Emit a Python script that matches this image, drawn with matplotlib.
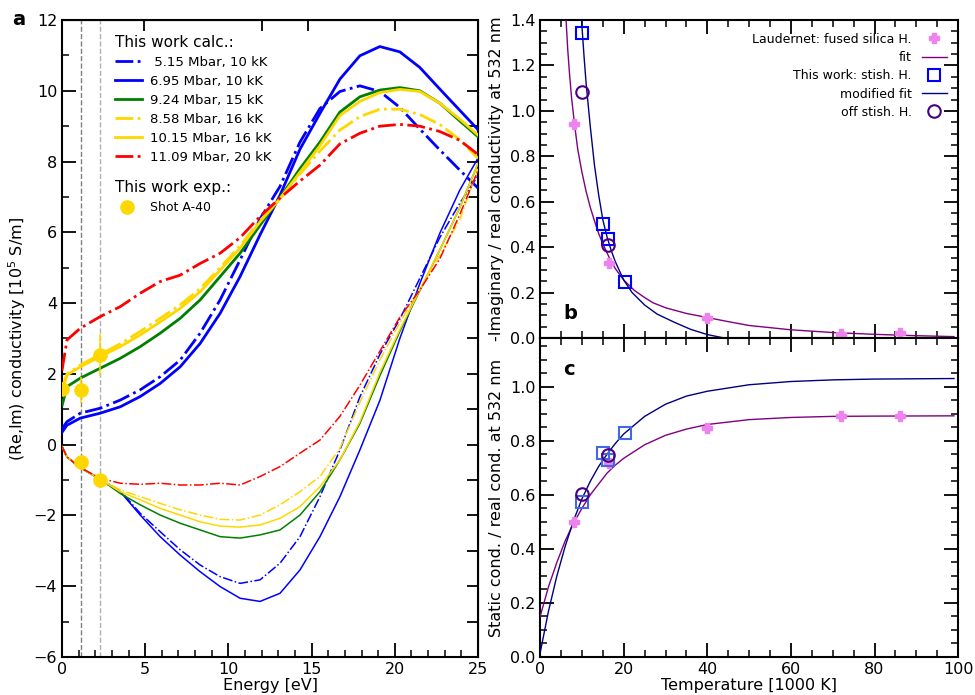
import matplotlib
matplotlib.use('Agg')
import matplotlib.pyplot as plt
from matplotlib.ticker import MultipleLocator, FixedLocator

plt.rcParams['font.family'] = ['DejaVu Sans']
plt.rcParams['font.size'] = 11.5
plt.rcParams['xtick.direction'] = 'in'
plt.rcParams['ytick.direction'] = 'in'

# ---------------- panel a data ----------------
E = [0, 0.3, 1.1, 2.3, 3.5, 4.7, 5.9, 7.1, 8.3, 9.5, 10.7, 11.9, 13.1, 14.3,
     15.5, 16.7, 17.9, 19.1, 20.3, 21.5, 22.7, 23.9, 25.0]

re_515 = [0.45, 0.65, 0.89, 1.03, 1.26, 1.55, 1.92, 2.39, 3.15, 4.09, 5.22, 6.38,
          7.30, 8.55, 9.50, 9.98, 10.14, 9.98, 9.53, 8.92, 8.33, 7.76, 7.25]
re_695 = [0.35, 0.55, 0.75, 0.89, 1.07, 1.36, 1.73, 2.20, 2.86, 3.71, 4.75, 5.93,
          7.05, 8.35, 9.36, 10.33, 10.99, 11.25, 11.10, 10.66, 10.05, 9.45, 8.90]
re_924 = [1.10, 1.64, 1.88, 2.16, 2.44, 2.77, 3.15, 3.57, 4.09, 4.75, 5.41, 6.20,
          6.98, 7.80, 8.55, 9.40, 9.83, 10.02, 10.09, 10.00, 9.65, 9.15, 8.70]
re_858 = [1.60, 2.00, 2.25, 2.55, 2.85, 3.20, 3.57, 3.95, 4.41, 5.00, 5.62, 6.33,
          6.95, 7.65, 8.30, 8.89, 9.27, 9.48, 9.48, 9.33, 9.05, 8.62, 8.09]
re_1015 = [1.50, 1.97, 2.20, 2.49, 2.77, 3.10, 3.47, 3.85, 4.32, 4.93, 5.55, 6.30,
           6.95, 7.70, 8.45, 9.30, 9.70, 9.95, 10.04, 9.98, 9.65, 9.20, 8.75]
re_1109 = [2.10, 2.96, 3.29, 3.62, 3.90, 4.28, 4.61, 4.79, 5.12, 5.41, 5.85, 6.45,
           6.97, 7.45, 7.90, 8.50, 8.80, 9.00, 9.05, 9.00, 8.85, 8.60, 8.20]

im_515 = [-0.05, -0.35, -0.65, -0.98, -1.30, -1.94, -2.46, -2.97, -3.40, -3.73, -3.92,
          -3.82, -3.35, -2.60, -1.47, -0.15, 1.35, 2.55, 3.55, 4.70, 5.85, 6.82, 7.60]
im_695 = [-0.05, -0.35, -0.65, -0.98, -1.33, -1.99, -2.60, -3.12, -3.59, -4.01, -4.34,
          -4.43, -4.20, -3.54, -2.60, -1.47, -0.15, 1.25, 3.00, 4.55, 5.97, 7.19, 8.10]
im_924 = [-0.05, -0.35, -0.65, -0.98, -1.38, -1.70, -1.99, -2.22, -2.41, -2.60, -2.64,
          -2.55, -2.41, -1.99, -1.33, -0.43, 0.60, 1.95, 3.20, 4.35, 5.50, 6.70, 7.95]
im_858 = [-0.05, -0.35, -0.65, -0.98, -1.28, -1.47, -1.66, -1.84, -1.99, -2.11, -2.13,
          -1.99, -1.70, -1.33, -0.90, -0.10, 1.20, 2.40, 3.45, 4.40, 5.35, 6.35, 7.80]
im_1015 = [-0.05, -0.35, -0.65, -0.98, -1.33, -1.56, -1.80, -1.99, -2.18, -2.30, -2.33,
           -2.27, -2.08, -1.75, -1.19, -0.43, 0.65, 2.04, 3.25, 4.37, 5.50, 6.70, 7.95]
im_1109 = [-0.05, -0.35, -0.65, -0.95, -1.09, -1.12, -1.09, -1.14, -1.14, -1.09, -1.14,
           -0.90, -0.62, -0.24, 0.13, 0.80, 1.68, 2.64, 3.60, 4.37, 5.25, 6.50, 7.75]

calc_labels = [' 5.15 Mbar, 10 kK', '6.95 Mbar, 10 kK', '9.24 Mbar, 15 kK',
               '8.58 Mbar, 16 kK', '10.15 Mbar, 16 kK', '11.09 Mbar, 20 kK']

exp_E_re = [0.0, 1.12, 2.28]
exp_re = [1.57, 1.55, 2.53]
exp_re_err = [0.0, 0.37, 0.60]
exp_E_im = [1.12, 2.28]
exp_im = [-0.48, -1.00]
vlines_E = [1.12, 2.28]
top_ticks_E = [4.95, 12.0, 14.8, 20.0]

# ---------------- panels b, c data ----------------
laud_T = [8.2, 16.5, 40, 72, 86]
laud_b = [0.943, 0.329, 0.089, 0.018, 0.020]
laud_c = [0.501, 0.717, 0.847, 0.893, 0.893]
stish_T = [10.1, 15.1, 16.2, 20.2]
stish_b = [1.342, 0.502, 0.436, 0.245]
stish_c = [0.573, 0.754, 0.727, 0.828]
off_T = [10.1, 16.2]
off_b = [1.082, 0.410]
off_c = [0.604, 0.746]

fitb_T = [6.2, 6.6, 7, 7.5, 8.2, 9, 10, 11, 12, 13, 14, 15, 16.5, 18, 20, 22.5, 25, 27,
          30, 35, 40, 45, 50, 60, 70, 80, 90, 99]
fitb_v = [1.40, 1.27, 1.17, 1.06, 0.945, 0.83, 0.73, 0.645, 0.575, 0.515, 0.46, 0.415,
          0.355, 0.305, 0.255, 0.21, 0.178, 0.155, 0.133, 0.108, 0.090, 0.072, 0.055,
          0.036, 0.024, 0.016, 0.010, 0.006]
modb_T = [9.9, 10.5, 11, 12, 13, 14, 15, 16, 17, 18, 20, 22, 25, 28, 32, 36, 40, 44, 50]
modb_v = [1.40, 1.24, 1.12, 0.93, 0.76, 0.63, 0.52, 0.445, 0.385, 0.335, 0.255, 0.20,
          0.145, 0.105, 0.07, 0.038, 0.015, 0.0, -0.02]

fitc_T = [0, 2, 4, 6, 8, 10, 12, 14, 16, 18, 20, 25, 30, 35, 40, 50, 60, 70, 80, 99]
fitc_v = [0.15, 0.26, 0.35, 0.43, 0.495, 0.55, 0.60, 0.64, 0.68, 0.71, 0.735, 0.785,
          0.82, 0.843, 0.86, 0.878, 0.886, 0.89, 0.891, 0.892]
modc_T = [0, 2, 4, 6, 8, 10, 12, 14, 16, 18, 20, 25, 30, 35, 40, 50, 60, 70, 80, 99]
modc_v = [0.015, 0.17, 0.30, 0.41, 0.505, 0.585, 0.65, 0.705, 0.75, 0.79, 0.825, 0.89,
          0.935, 0.965, 0.983, 1.007, 1.019, 1.025, 1.028, 1.03]

# ---------------- figure ----------------
fig = plt.figure(figsize=(9.75, 6.95), dpi=100)
axa = fig.add_axes([0.0636, 0.0547, 0.4267, 0.9165])
axb = fig.add_axes([0.554, 0.5137, 0.4287, 0.4575])
axc = fig.add_axes([0.554, 0.0547, 0.4287, 0.459], sharex=axb)

BLUE, GREEN, GOLD, RED = '#0000ff', '#008000', '#ffd700', '#ff0000'
styles = [(BLUE, '-.'), (BLUE, '-'), (GREEN, '-'), (GOLD, '-.'), (GOLD, '-'), (RED, '-.')]
re_all = [re_515, re_695, re_924, re_858, re_1015, re_1109]
im_all = [im_515, im_695, im_924, im_858, im_1015, im_1109]

for xv, col in zip(vlines_E, ['#808080', '#b0b0b0']):
    axa.axvline(xv, color=col, ls='--', lw=1.0, zorder=1)

handles = []
for (c, ls), re_, im_, lab in zip(styles, re_all, im_all, calc_labels):
    h, = axa.plot(E, re_, color=c, ls=ls, lw=2.0, label=lab, zorder=3)
    axa.plot(E, im_, color=c, ls=ls, lw=1.1, zorder=3)
    handles.append(h)

axa.errorbar(exp_E_re, exp_re, yerr=exp_re_err, fmt='none', ecolor=GOLD, elinewidth=1.5,
             alpha=0.75, zorder=4)
hexp, = axa.plot(exp_E_re, exp_re, 'o', color=GOLD, ms=9.5, zorder=5, label='Shot A-40')
axa.plot(exp_E_im, exp_im, 'o', color=GOLD, ms=9.5, zorder=5)

axa.set_xlim(0, 25)
axa.set_ylim(-6, 12)
axa.xaxis.set_major_locator(MultipleLocator(5))
axa.xaxis.set_minor_locator(MultipleLocator(1))
axa.yaxis.set_major_locator(MultipleLocator(2))
axa.yaxis.set_minor_locator(MultipleLocator(1))
axa.tick_params(which='major', length=10, width=1.3, top=False, right=False)
axa.tick_params(which='minor', length=5, width=1.1, top=False, right=False)
sec_top = axa.secondary_xaxis('top')
sec_top.xaxis.set_major_locator(FixedLocator(top_ticks_E))
sec_top.tick_params(which='major', length=8, width=1.3, direction='in', labeltop=False)
sec_top.xaxis.set_minor_locator(FixedLocator([]))
sec_right = axa.secondary_yaxis('right')
sec_right.yaxis.set_major_locator(MultipleLocator(1))
sec_right.tick_params(which='major', length=8, width=1.3, direction='in', labelright=False)
sec_right.yaxis.set_minor_locator(FixedLocator([]))
axa.set_xlabel('Energy [eV]', labelpad=1)
axa.set_ylabel('(Re,Im) conductivity [10$^5$ S/m]')

leg1 = axa.legend(handles=handles, loc='upper left', bbox_to_anchor=(0.10, 0.995),
                  frameon=False, fontsize=9.5, title='This work calc.:',
                  title_fontsize=11, alignment='left', labelspacing=0.45,
                  handlelength=2.0, handletextpad=0.6)
axa.add_artist(leg1)
leg2 = axa.legend(handles=[hexp], loc='upper left', bbox_to_anchor=(0.10, 0.767),
                  frameon=False, fontsize=9, title='This work exp.:', title_fontsize=11,
                  alignment='left', handlelength=2.0, handletextpad=0.8, markerscale=1.0)

fig.text(0.012, 0.972, 'a', fontsize=14, fontweight='bold', va='center')

# ---------------- panel b ----------------
VIOLET, PURPLE, NAVY, INDIGO, ROYAL = '#ee82ee', '#800080', '#000080', '#4b0082', '#4169e1'
axb.plot(laud_T, laud_b, 'P', color=VIOLET, ms=7.5, ls='none', label='Laudernet: fused silica H.', zorder=4)
axb.plot(fitb_T, fitb_v, color=PURPLE, lw=1.0, label='fit', zorder=3)
axb.plot(stish_T, stish_b, 's', mfc='none', mec=BLUE, mew=1.5, ms=9, ls='none', label='This work: stish. H.', zorder=5)
axb.plot(modb_T, modb_v, color=NAVY, lw=1.0, label='modified fit', zorder=3)
axb.plot(off_T, off_b, 'o', mfc='none', mec=INDIGO, mew=1.5, ms=9, ls='none', label='off stish. H.', zorder=5)
axb.set_xlim(0, 100)
axb.set_ylim(0, 1.4)
axb.yaxis.set_major_locator(MultipleLocator(0.2))
axb.yaxis.set_minor_locator(MultipleLocator(0.05))
axb.xaxis.set_major_locator(MultipleLocator(20))
axb.xaxis.set_minor_locator(MultipleLocator(5))
axb.tick_params(which='both', top=True, right=True, labelbottom=False)
axb.tick_params(which='major', length=10, width=1.3)
axb.tick_params(which='minor', length=5, width=1.1)
axb.set_ylabel('-Imaginary / real conductivity at 532 nm')
axb.legend(loc='upper right', bbox_to_anchor=(1.0, 0.995), frameon=False, fontsize=9,
           markerfirst=False, labelspacing=0.42, handlelength=2.0, handletextpad=0.8)
axb.text(0.055, 0.06, 'b', transform=axb.transAxes, fontsize=14, fontweight='bold')

# ---------------- panel c ----------------
axc.plot(laud_T, laud_c, 'P', color=VIOLET, ms=7.5, ls='none', zorder=4)
axc.plot(fitc_T, fitc_v, color=PURPLE, lw=1.0, zorder=3)
axc.plot(stish_T, stish_c, 's', mfc='none', mec=ROYAL, mew=1.5, ms=9, ls='none', zorder=5)
axc.plot(modc_T, modc_v, color=NAVY, lw=1.0, zorder=3)
axc.plot(off_T, off_c, 'o', mfc='none', mec=INDIGO, mew=1.5, ms=9, ls='none', zorder=5)
axc.set_ylim(0, 1.18)
axc.yaxis.set_major_locator(MultipleLocator(0.2))
axc.yaxis.set_minor_locator(MultipleLocator(0.05))
axc.set_yticks([0, 0.2, 0.4, 0.6, 0.8, 1.0])
axc.tick_params(which='both', top=True, right=True)
axc.tick_params(which='major', length=10, width=1.3)
axc.tick_params(which='minor', length=5, width=1.1)
axc.set_xlabel('Temperature [1000 K]', labelpad=1)
axc.set_ylabel('Static cond. / real cond. at 532 nm')
axc.text(0.055, 0.90, 'c', transform=axc.transAxes, fontsize=14, fontweight='bold', va='center')

for ax in (axa, axb, axc):
    for s in ax.spines.values():
        s.set_linewidth(1.5)

fig.savefig('out.png', dpi=100)
